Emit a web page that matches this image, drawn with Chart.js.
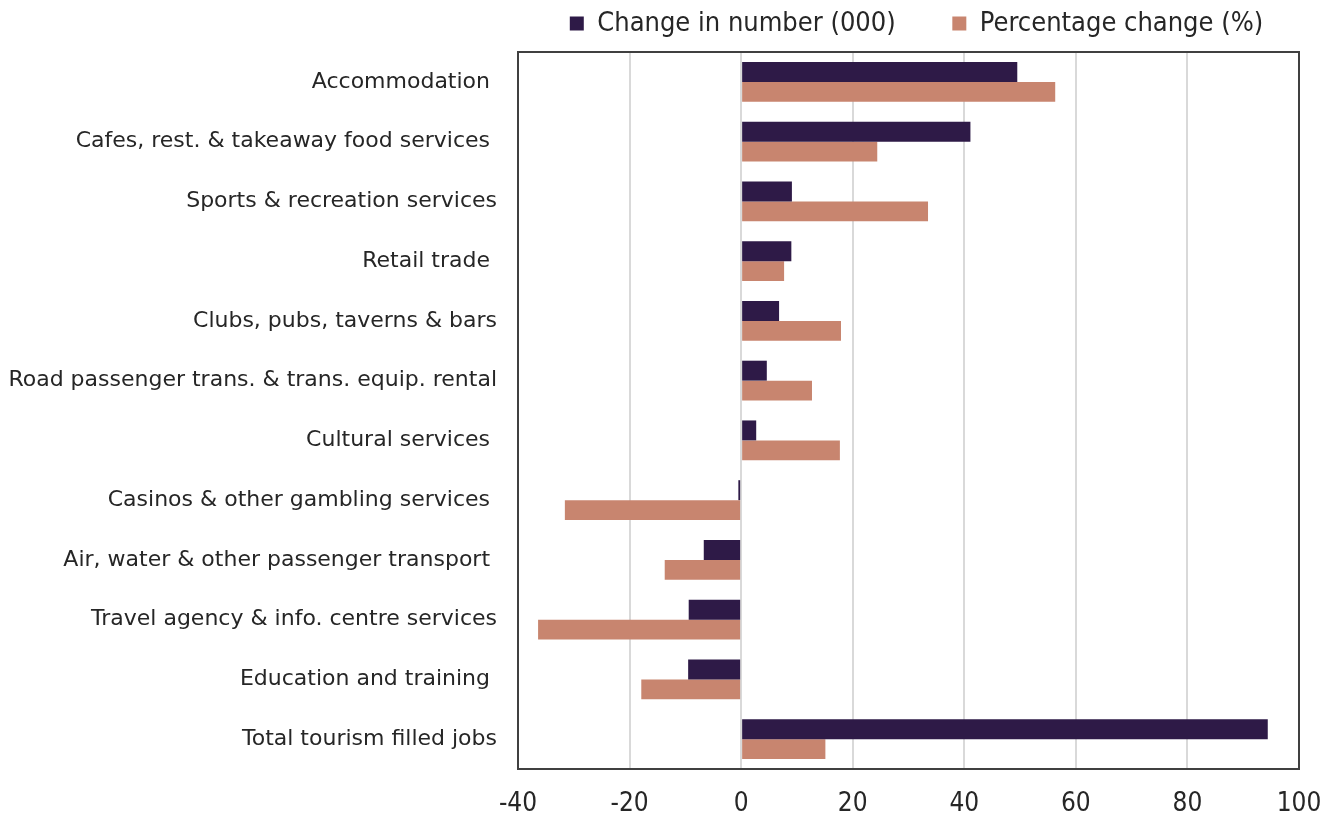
<!DOCTYPE html>
<html>
<head>
<meta charset="utf-8">
<script src="https://cdn.jsdelivr.net/npm/chart.js@4"></script>
<style>
  html, body { margin: 0; padding: 0; background: #ffffff; }
  #wrap { width: 1338px; height: 818px; }
</style>
</head>
<body>
<div id="wrap"><canvas id="chartTurismo"></canvas></div>
<script>
// Categorías (con el espacio final que trae el original)
const categorias = [
  'Accommodation ',
  'Cafes, rest. & takeaway food services ',
  'Sports & recreation services',
  'Retail trade ',
  'Clubs, pubs, taverns & bars',
  'Road passenger trans. & trans. equip. rental',
  'Cultural services ',
  'Casinos & other gambling services ',
  'Air, water & other passenger transport ',
  'Travel agency & info. centre services',
  'Education and training ',
  'Total tourism filled jobs'
];
const cambioNumero = [49.5, 41.1, 9.1, 9.0, 6.8, 4.6, 2.7, -0.5, -6.7, -9.4, -9.5, 94.4];
const cambioPorcentaje = [56.3, 24.4, 33.5, 7.7, 17.9, 12.7, 17.7, -31.6, -13.7, -36.4, -17.9, 15.1];
const etiquetasSeries = ['Change in number (000)', 'Percentage change (%)'];
const ejeMin = -40, ejeMax = 100, ejePaso = 20;

document.addEventListener('DOMContentLoaded', function() {
    const ctx = document.getElementById('chartTurismo').getContext('2d');

    // Marco oscuro alrededor del área del gráfico
    const marco = {
        id: 'marco',
        afterDatasetsDraw(chart) {
            const a = chart.chartArea;
            const c = chart.ctx;
            c.save();
            c.strokeStyle = '#404040';
            c.lineWidth = 2;
            c.strokeRect(a.left, a.top, a.right - a.left, a.bottom - a.top);
            c.restore();
        }
    };

    // Centrar la leyenda sobre el área del gráfico (un poco a la derecha, como el original)
    const leyendaCentrada = {
        id: 'leyendaCentrada',
        afterLayout(chart) {
            const lg = chart.legend;
            lg.left = chart.chartArea.left + 8;
            lg.right = chart.chartArea.right + 8;
            lg.width = lg.right - lg.left;
            lg.adjustHitBoxes();
        }
    };

    new Chart(ctx, {
        type: 'bar',
        data: {
            labels: categorias,
            datasets: [{
                label: etiquetasSeries[0],
                data: cambioNumero,
                backgroundColor: '#2e1a47',
                categoryPercentage: 0.667,
                barPercentage: 1.0
            }, {
                label: etiquetasSeries[1],
                data: cambioPorcentaje,
                backgroundColor: '#c8856f',
                categoryPercentage: 0.667,
                barPercentage: 1.0
            }]
        },
        options: {
            indexAxis: 'y',
            responsive: true,
            maintainAspectRatio: false,
            animation: false,
            layout: { padding: { left: 8, right: 39, top: 2, bottom: 0 } },
            plugins: {
                legend: {
                    position: 'top',
                    labels: {
                        boxWidth: 14,
                        boxHeight: 14,
                        padding: 8,
                        color: '#262626',
                        font: { family: 'DejaVu Sans Condensed', size: 27 },
                        // espacio extra entre las dos entradas, como en el original
                        generateLabels: function(chart) {
                            const items = Chart.defaults.plugins.legend.labels.generateLabels(chart);
                            items[0].text = items[0].text + '\u2003\u2003';
                            return items;
                        }
                    }
                },
                tooltip: { enabled: false }
            },
            scales: {
                x: {
                    min: ejeMin,
                    max: ejeMax,
                    afterFit: function(scale) {
                        scale.height = 49;
                        scale.paddingLeft = 0;
                        scale.paddingRight = 0;
                    },
                    ticks: {
                        stepSize: ejePaso,
                        color: '#262626',
                        padding: 20,
                        font: { family: 'DejaVu Sans Condensed', size: 26 }
                    },
                    grid: { color: '#d9d9d9', lineWidth: 2, drawTicks: false },
                    border: { display: false }
                },
                // eje vacío arriba: solo deja un hueco entre la leyenda y el gráfico
                hueco: {
                    type: 'linear',
                    position: 'top',
                    afterFit: function(scale) { scale.height = 5; },
                    ticks: { display: false },
                    grid: { display: false, drawTicks: false },
                    border: { display: false }
                },
                y: {
                    afterFit: function(scale) { scale.width = 510; },
                    ticks: {
                        color: '#262626',
                        padding: 21,
                        autoSkip: false,
                        font: { family: 'DejaVu Sans', size: 22 }
                    },
                    grid: { display: false, drawTicks: false },
                    border: { display: false }
                }
            }
        },
        plugins: [marco, leyendaCentrada]
    });
});
</script>
</body>
</html>
